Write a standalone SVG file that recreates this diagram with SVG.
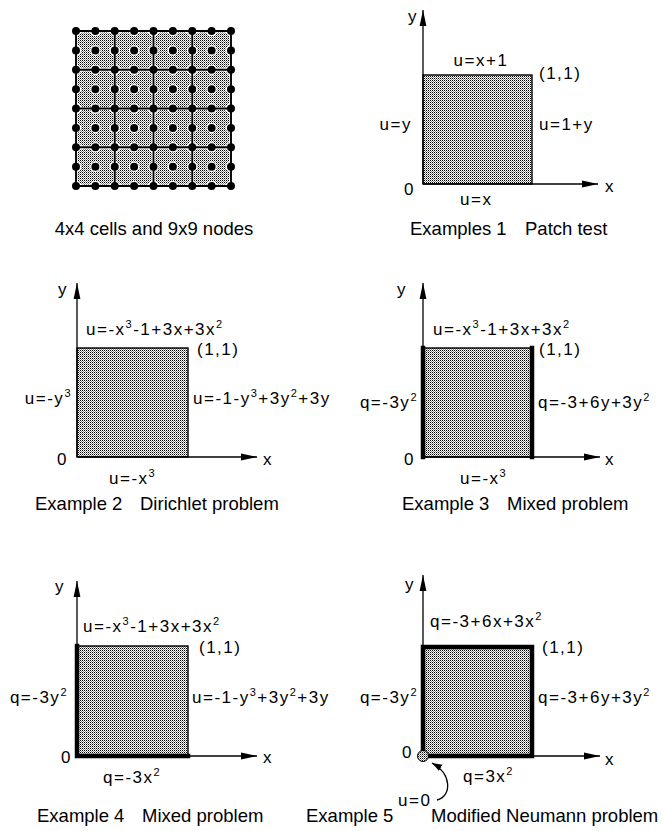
<svg xmlns="http://www.w3.org/2000/svg" width="662" height="831" viewBox="0 0 662 831">
<defs>
<pattern id="dots" width="2" height="2" patternUnits="userSpaceOnUse"><rect width="2" height="2" fill="#fff"/><rect width="1" height="1" fill="#000"/><rect x="1" y="1" width="1" height="1" fill="#8a8a8a"/></pattern>
<marker id="ah" viewBox="0 0 16 8" refX="16" refY="4" markerWidth="16" markerHeight="8" markerUnits="userSpaceOnUse" orient="auto"><path d="M0,0.6 L16,4 L0,7.4 Z" fill="#000"/></marker>
<marker id="ah2" viewBox="0 0 10 8" refX="10" refY="4" markerWidth="10" markerHeight="8" markerUnits="userSpaceOnUse" orient="auto"><path d="M0,0.5 L10,4 L0,7.5 Z" fill="#000"/></marker>
</defs>
<style>
text{font-family:"Liberation Sans",Arial,sans-serif;font-size:17px;fill:#000}
.f{letter-spacing:1.5px}
.cap{font-size:18.5px}
.axis{stroke:#000;stroke-width:1.3;fill:none;marker-end:url(#ah)}
.box{fill:url(#dots);stroke:#000;stroke-width:1.4}
.thick{stroke:#000;stroke-width:4.5;fill:none;stroke-linecap:square}
.sup{font-size:11px}
</style>
<rect width="662" height="831" fill="#fff"/>

<g id="mesh">
<rect x="76" y="31" width="155" height="155" fill="#fff"/>
<g fill="url(#dots)">
<rect x="77.5" y="32.5" width="35.75" height="35.75" rx="6"/><rect x="116.25" y="32.5" width="35.75" height="35.75" rx="6"/><rect x="155" y="32.5" width="35.75" height="35.75" rx="6"/><rect x="193.75" y="32.5" width="35.75" height="35.75" rx="6"/>
<rect x="77.5" y="71.25" width="35.75" height="35.75" rx="6"/><rect x="116.25" y="71.25" width="35.75" height="35.75" rx="6"/><rect x="155" y="71.25" width="35.75" height="35.75" rx="6"/><rect x="193.75" y="71.25" width="35.75" height="35.75" rx="6"/>
<rect x="77.5" y="110" width="35.75" height="35.75" rx="6"/><rect x="116.25" y="110" width="35.75" height="35.75" rx="6"/><rect x="155" y="110" width="35.75" height="35.75" rx="6"/><rect x="193.75" y="110" width="35.75" height="35.75" rx="6"/>
<rect x="77.5" y="148.75" width="35.75" height="35.75" rx="6"/><rect x="116.25" y="148.75" width="35.75" height="35.75" rx="6"/><rect x="155" y="148.75" width="35.75" height="35.75" rx="6"/><rect x="193.75" y="148.75" width="35.75" height="35.75" rx="6"/>
</g>
<g stroke="#fff" stroke-width="10.5" stroke-linecap="round" stroke-dasharray="0 19.375">
<path d="M76,31H231.5M76,50.375H231.5M76,69.75H231.5M76,89.125H231.5M76,108.5H231.5M76,127.875H231.5M76,147.25H231.5M76,166.625H231.5M76,186H231.5"/>
</g>
<path d="M76,31H231M76,69.75H231M76,108.5H231M76,147.25H231M76,186H231M76,31V186M114.75,31V186M153.5,31V186M192.25,31V186M231,31V186" stroke="#000" stroke-width="1.9" fill="none"/>
<g stroke="#000" stroke-width="8" stroke-linecap="round" stroke-dasharray="0 19.375">
<path d="M76,31H231.5M76,50.375H231.5M76,69.75H231.5M76,89.125H231.5M76,108.5H231.5M76,127.875H231.5M76,147.25H231.5M76,166.625H231.5M76,186H231.5"/>
</g>
<text class="cap" x="154" y="235" text-anchor="middle">4x4 cells and 9x9 nodes</text>
</g>

<g id="ex1">
<rect class="box" x="423" y="75" width="109" height="109"/>
<line class="axis" x1="423" y1="184" x2="423" y2="10"/>
<line class="axis" x1="423" y1="184" x2="598" y2="184"/>
<text x="408" y="22">y</text>
<text class="f" x="481" y="66" text-anchor="middle">u=x+1</text>
<text class="f" x="539" y="79">(1,1)</text>
<text class="f" x="412" y="130" text-anchor="end">u=y</text>
<text class="f" x="539" y="130">u=1+y</text>
<text x="404" y="195">0</text>
<text x="605" y="192">x</text>
<text class="f" x="460" y="205">u=x</text>
<text class="cap" y="235"><tspan x="410">Examples 1</tspan><tspan x="525">Patch test</tspan></text>
</g>

<g id="ex2">
<rect class="box" x="77" y="348" width="111" height="109"/>
<line class="axis" x1="77" y1="457" x2="77" y2="283"/>
<line class="axis" x1="77" y1="457" x2="257" y2="457"/>
<text x="58" y="295">y</text>
<text class="f" x="86" y="335">u=-x<tspan class="sup" dy="-7">3</tspan><tspan dy="7">-1+3x+3x</tspan><tspan class="sup" dy="-7">2</tspan></text>
<text class="f" x="197" y="355">(1,1)</text>
<text class="f" x="72" y="404" text-anchor="end">u=-y<tspan class="sup" dy="-7">3</tspan></text>
<text class="f" x="193" y="404">u=-1-y<tspan class="sup" dy="-7">3</tspan><tspan dy="7">+3y</tspan><tspan class="sup" dy="-7">2</tspan><tspan dy="7">+3y</tspan></text>
<text x="57" y="465">0</text>
<text x="263" y="465">x</text>
<text class="f" x="109" y="484">u=-x<tspan class="sup" dy="-7">3</tspan></text>
<text class="cap" y="510"><tspan x="35">Example 2</tspan><tspan x="140">Dirichlet problem</tspan></text>
</g>

<g id="ex3">
<rect class="box" x="423" y="348" width="109" height="109"/>
<path class="thick" d="M423,348V457M532,348V457"/>
<line class="axis" x1="423" y1="457" x2="423" y2="283"/>
<line class="axis" x1="423" y1="457" x2="600" y2="457"/>
<text x="397" y="295">y</text>
<text class="f" x="433" y="335">u=-x<tspan class="sup" dy="-7">3</tspan><tspan dy="7">-1+3x+3x</tspan><tspan class="sup" dy="-7">2</tspan></text>
<text class="f" x="539" y="355">(1,1)</text>
<text class="f" x="418" y="408" text-anchor="end">q=-3y<tspan class="sup" dy="-7">2</tspan></text>
<text class="f" x="538" y="408">q=-3+6y+3y<tspan class="sup" dy="-7">2</tspan></text>
<text x="404" y="465">0</text>
<text x="605" y="465">x</text>
<text class="f" x="460" y="484">u=-x<tspan class="sup" dy="-7">3</tspan></text>
<text class="cap" y="510"><tspan x="402">Example 3</tspan><tspan x="507">Mixed problem</tspan></text>
</g>

<g id="ex4">
<rect class="box" x="77" y="646" width="111" height="110"/>
<path class="thick" d="M77,646V756H188"/>
<line class="axis" x1="77" y1="756" x2="77" y2="581"/>
<line class="axis" x1="77" y1="756" x2="257" y2="756"/>
<text x="55" y="592">y</text>
<text class="f" x="83" y="632">u=-x<tspan class="sup" dy="-7">3</tspan><tspan dy="7">-1+3x+3x</tspan><tspan class="sup" dy="-7">2</tspan></text>
<text class="f" x="199" y="653">(1,1)</text>
<text class="f" x="68" y="703" text-anchor="end">q=-3y<tspan class="sup" dy="-7">2</tspan></text>
<text class="f" x="192" y="703">u=-1-y<tspan class="sup" dy="-7">3</tspan><tspan dy="7">+3y</tspan><tspan class="sup" dy="-7">2</tspan><tspan dy="7">+3y</tspan></text>
<text x="61" y="763">0</text>
<text x="263" y="763">x</text>
<text class="f" x="103" y="783">q=-3x<tspan class="sup" dy="-7">2</tspan></text>
<text class="cap" y="822"><tspan x="37">Example 4</tspan><tspan x="142">Mixed problem</tspan></text>
</g>

<g id="ex5">
<rect class="box" x="423" y="647" width="109" height="109"/>
<path class="thick" d="M423,647H532V756H423Z"/>
<line class="axis" x1="423" y1="756" x2="423" y2="575"/>
<line class="axis" x1="423" y1="756" x2="600" y2="756"/>
<circle cx="423" cy="756" r="5.5" fill="url(#dots)" stroke="#000" stroke-width="1"/>
<text x="405" y="590">y</text>
<text class="f" x="430" y="627">q=-3+6x+3x<tspan class="sup" dy="-7">2</tspan></text>
<text class="f" x="542" y="653">(1,1)</text>
<text class="f" x="418" y="703" text-anchor="end">q=-3y<tspan class="sup" dy="-7">2</tspan></text>
<text class="f" x="538" y="703">q=-3+6y+3y<tspan class="sup" dy="-7">2</tspan></text>
<text x="402" y="758">0</text>
<text x="605" y="765">x</text>
<text class="f" x="463" y="782">q=3x<tspan class="sup" dy="-7">2</tspan></text>
<text class="f" x="398" y="806">u=0</text>
<path d="M437,800 C452,796 452,774 432,763" fill="none" stroke="#000" stroke-width="1.3" marker-end="url(#ah2)"/>
<text class="cap" y="822"><tspan x="306">Example 5</tspan><tspan x="431">Modified Neumann problem</tspan></text>
</g>
</svg>
